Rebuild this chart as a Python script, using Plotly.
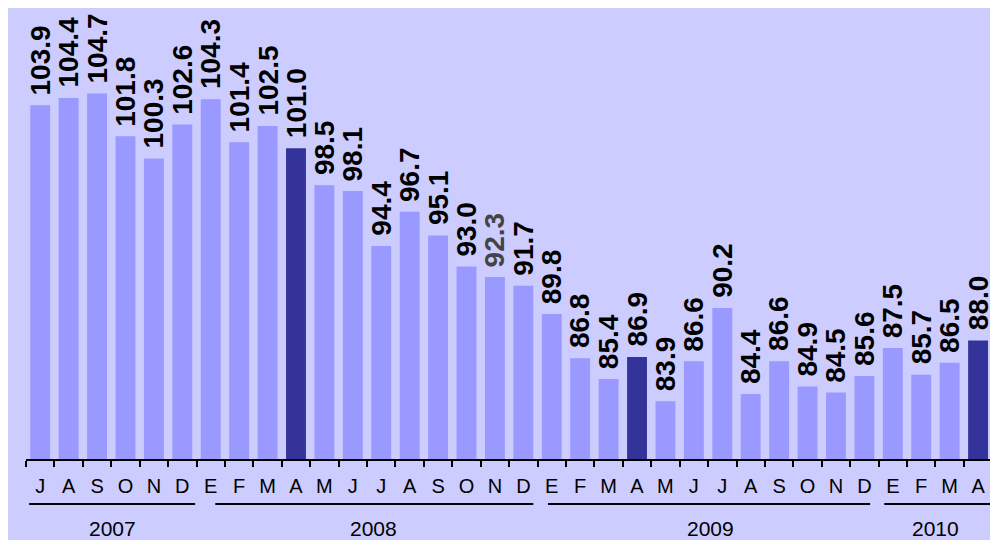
import plotly.graph_objects as go

months = ["J", "A", "S", "O", "N", "D",
          "E", "F", "M", "A", "M", "J", "J", "A", "S", "O", "N", "D",
          "E", "F", "M", "A", "M", "J", "J", "A", "S", "O", "N", "D",
          "E", "F", "M", "A"]
values = [103.9, 104.4, 104.7, 101.8, 100.3, 102.6,
          104.3, 101.4, 102.5, 101.0, 98.5, 98.1, 94.4, 96.7, 95.1, 93.0, 92.3, 91.7,
          89.8, 86.8, 85.4, 86.9, 83.9, 86.6, 90.2, 84.4, 86.6, 84.9, 84.5, 85.6,
          87.5, 85.7, 86.5, 88.0]
highlight = [9, 21, 33]          # April bars shown in dark blue
gray_label = [16]                # label drawn in dark gray
years = ["2007", "2008", "2009", "2010"]

LIGHT = "#9999FF"
DARK = "#333399"
BG = "#CCCCFF"
FONT = "Liberation Sans, Arial, sans-serif"

x = list(range(len(values)))
bar_colors = [DARK if i in highlight else LIGHT for i in x]

fig = go.Figure()
fig.add_trace(go.Bar(
    x=x, y=values,
    marker=dict(color=bar_colors, line=dict(width=0)),
    hoverinfo="skip",
))

annotations = []
for i, v in zip(x, values):
    annotations.append(dict(
        xref="x", yref="y", x=i, y=v, text=f"<b>{v:.1f}</b>",
        showarrow=False, textangle=-90, xanchor="center", yanchor="bottom",
        yshift=9, borderpad=0,
        font=dict(family=FONT, size=28,
                  color="#444444" if i in gray_label else "#000000")))

# year underline extents (in category units)
line_starts = [-0.39, 6.16, 17.87, 29.7]
line_ends = [5.45, 17.35, 29.2, 33.45]
label_pos = [2.53, 11.72, 23.57, 31.5]
shapes = [
    # light lavender panel behind the chart (white frame outside it)
    dict(type="rect", xref="paper", yref="paper", x0=-0.0187, x1=1.05,
         y0=-0.25, y1=1.0, layer="below", line=dict(width=0), fillcolor=BG),
]
for yr, s, e, lp in zip(years, line_starts, line_ends, label_pos):
    shapes.append(dict(type="line", xref="x", yref="paper", x0=s, x1=e,
                       y0=-0.0998, y1=-0.0998, line=dict(color="black", width=2)))
    annotations.append(dict(xref="x", yref="paper", x=lp, y=-0.153, text=yr,
                            showarrow=False, xanchor="center", yanchor="middle",
                            font=dict(family=FONT, size=21, color="black")))

fig.update_layout(
    width=990, height=540,
    margin=dict(l=26, r=0, t=8, b=81),
    paper_bgcolor="white", plot_bgcolor="rgba(0,0,0,0)",
    showlegend=False,
    bargap=0.3,
    shapes=shapes,
    annotations=annotations,
    xaxis=dict(
        range=[-0.5, 33.42],
        tickmode="array", tickvals=x, ticktext=months,
        ticks="", showgrid=False, zeroline=False,
        showline=True, linecolor="black", linewidth=2,
        tickfont=dict(family=FONT, size=20, color="black"),
        ticklabelstandoff=8,
        minor=dict(ticks="outside", tick0=-0.5, dtick=1, ticklen=6,
                   tickwidth=2, tickcolor="black", showgrid=False),
    ),
    yaxis=dict(range=[80, 80 + 451 / 14.8], visible=False, showgrid=False),
)

fig.write_html("out.html",
               config={"displayModeBar": False},
               post_script="document.body.style.margin='0';"
                           "document.documentElement.style.overflow='hidden';")
